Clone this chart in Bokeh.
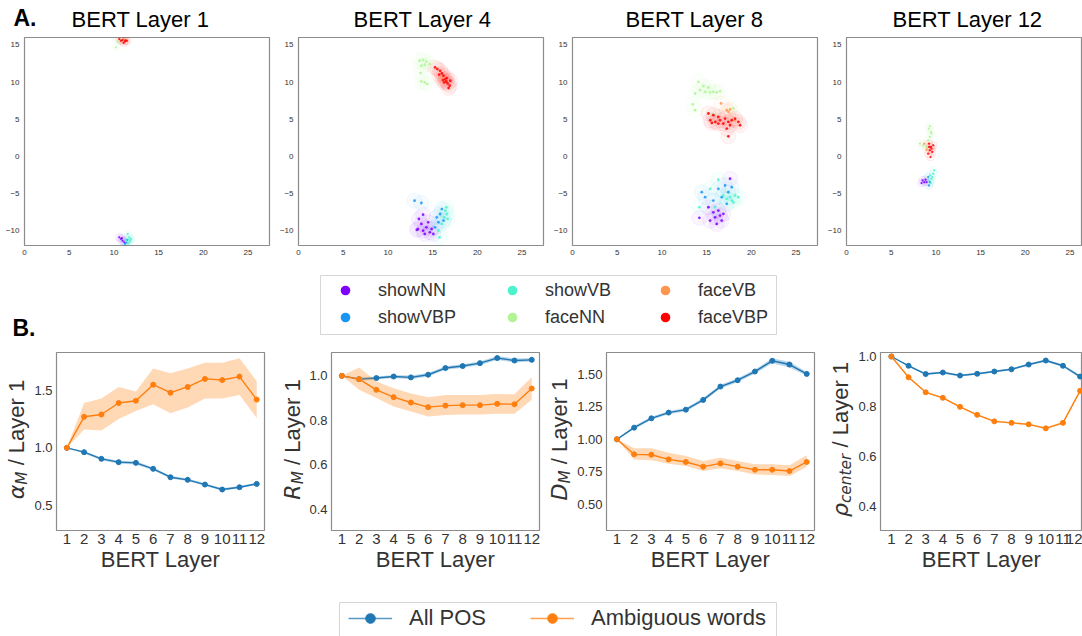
import math
from bokeh.plotting import figure
from bokeh.layouts import column, row
from bokeh.models import Range1d, FixedTicker, NumeralTickFormatter, Legend, LegendItem
from bokeh.core.properties import value
from bokeh.embed import file_html
from bokeh.resources import INLINE

FONT = "Liberation Sans"
MATHFONT = "DejaVu Sans"
TXT = "#333333"

# ---------------- Panel A: 2-D embeddings of the words per BERT layer ----------------
categories = ["showNN", "showVBP", "showVB", "faceNN", "faceVB", "faceVBP"]
category_colors = ["#8000ff", "#1996f3", "#4df3ce", "#b2f396", "#ff964f", "#ff0000"]
panel_a_titles = ["BERT Layer 1", "BERT Layer 4", "BERT Layer 8", "BERT Layer 12"]
umap_xticks = [0, 5, 10, 15, 20, 25]
umap_yticks = [-10, -5, 0, 5, 10, 15]

l1_showNN = [(10.6, -10.9), (10.79, -11.12), (10.97, -11.35), (11.16, -11.57), (10.9, -11.0)]
l1_showVBP = [(11.24, -11.79), (11.46, -11.26), (11.4, -11.6)]
l1_showVB = [(11.54, -10.45), (11.72, -10.9), (11.35, -11.35), (11.84, -11.43), (11.61, -11.7), (11.91, -11.12), (11.65, -11.2)]
l1_faceNN = [(10.41, 15.47), (10.22, 14.66), (10.71, 15.65)]
l1_faceVB = [(11.16, 15.74)]
l1_faceVBP = [(10.79, 15.56), (10.97, 15.65), (11.24, 15.47), (11.46, 15.56), (11.09, 15.29), (10.6, 15.78), (11.3, 15.6)]

l4_showNN = [(13.36, -9.78), (13.93, -10.0), (14.31, -9.55), (14.69, -10.22), (14.89, -9.78), (14.12, -10.45),
             (13.74, -9.1), (15.08, -10.45), (14.5, -8.88), (13.47, -8.43), (13.93, -7.85), (13.24, -9.91)]
l4_showVBP = [(12.98, -5.96), (13.74, -6.28), (15.46, -8.21), (15.84, -7.76), (15.65, -8.88), (15.27, -9.55),
              (16.03, -7.09), (16.22, -8.65)]
l4_showVB = [(16.41, -7.31), (16.6, -7.76), (16.3, -8.21), (16.03, -9.1), (15.76, -10.9), (15.65, -10.0),
             (16.53, -6.86), (16.68, -8.43)]
l4_faceNN = [(13.55, 12.87), (13.93, 12.96), (14.31, 12.74), (14.69, 12.42), (13.74, 12.2), (14.12, 12.33),
             (13.66, 11.21), (13.74, 10.09), (14.12, 9.96), (14.39, 9.73)]
l4_faceVB = [(16.41, 10.18), (16.0, 10.6)]
l4_faceVBP = [(15.27, 11.97), (15.53, 11.75), (15.84, 11.52), (16.03, 11.17), (16.22, 10.85), (16.41, 10.4),
              (16.53, 10.09), (16.68, 9.82), (16.91, 9.51), (16.3, 9.96), (16.6, 10.54), (16.98, 10.18),
              (16.15, 10.27), (16.79, 9.19), (15.73, 10.99)]

l8_showNN = [(17.62, -3.01), (15.2, -6.85), (15.75, -7.53), (16.31, -7.3), (15.94, -8.2), (16.5, -7.97),
             (15.39, -8.65), (16.13, -9.09), (16.69, -8.65), (14.19, -8.28), (16.87, -7.74)]
l8_showVBP = [(14.46, -4.82), (16.31, -4.37), (17.06, -3.92), (17.43, -4.82), (17.81, -4.15), (16.69, -5.5),
              (15.75, -5.95), (17.25, -6.39), (14.83, -5.5)]
l8_showVB = [(16.31, -3.15), (15.39, -4.37), (16.87, -5.27), (17.62, -5.5), (18.18, -5.27), (18.55, -5.5),
             (17.25, -5.72), (17.81, -5.95), (14.19, -6.85), (15.94, -6.85), (17.99, -6.18)]
l8_faceNN = [(14.08, 10.04), (14.63, 9.46), (15.19, 9.28), (14.27, 8.92), (14.83, 8.69), (15.39, 8.61),
             (15.76, 8.69), (16.13, 8.61), (13.71, 8.47), (16.5, 8.78), (13.45, 6.99), (13.71, 6.22),
             (15.75, 5.68), (17.99, 6.45)]
l8_faceVB = [(16.61, 7.12), (17.25, 6.22), (17.43, 5.99), (17.62, 6.31), (18.18, 4.86)]
l8_faceVBP = [(15.2, 5.77), (15.75, 5.54), (16.31, 5.31), (15.41, 4.86), (15.97, 4.64), (16.5, 4.86),
              (17.06, 5.09), (17.43, 4.64), (17.81, 4.86), (18.18, 5.09), (18.55, 4.64), (16.87, 4.42),
              (17.62, 4.19), (17.25, 3.74), (16.31, 4.42), (15.58, 4.5), (18.74, 4.19), (17.43, 2.7)]

l12_showNN = [(8.51, -3.24), (8.69, -3.47), (8.84, -3.15), (8.4, -3.6), (8.96, -3.47)]
l12_showVBP = [(9.14, -2.79), (9.33, -3.47), (9.22, -3.92)]
l12_showVB = [(9.33, -2.57), (9.51, -3.02), (9.7, -2.34), (9.81, -1.89), (9.44, -3.6), (9.59, -2.79), (9.14, -3.24)]
l12_faceNN = [(9.22, 3.74), (9.44, 3.29), (9.33, 2.61), (9.14, 2.16), (9.51, 3.06), (8.21, 1.71), (8.58, 1.49),
              (8.96, 1.26), (9.33, 4.05)]
l12_faceVB = [(8.69, 1.71), (8.96, 0.9)]
l12_faceVBP = [(9.22, 1.71), (9.44, 1.26), (9.33, 0.81), (9.59, 0.59), (9.14, 0.36), (9.4, -0.09), (9.25, 1.26),
               (9.51, 1.04), (9.7, 1.49)]

panel_a_points = [
    [l1_showNN, l1_showVBP, l1_showVB, l1_faceNN, l1_faceVB, l1_faceVBP],
    [l4_showNN, l4_showVBP, l4_showVB, l4_faceNN, l4_faceVB, l4_faceVBP],
    [l8_showNN, l8_showVBP, l8_showVB, l8_faceNN, l8_faceVB, l8_faceVBP],
    [l12_showNN, l12_showVBP, l12_showVB, l12_faceNN, l12_faceVB, l12_faceVBP],
]

# ---------------- Panel B: metrics relative to layer 1 ----------------
layers = [1, 2, 3, 4, 5, 6, 7, 8, 9, 10, 11, 12]
series_names = ["All POS", "Ambiguous words"]
series_colors = ["#1f77b4", "#ff7f0e"]

alpha_all = [1.0, 0.962, 0.904, 0.875, 0.869, 0.817, 0.744, 0.721, 0.680, 0.637, 0.657, 0.686]
alpha_all_lo = [1.0, 0.950, 0.892, 0.862, 0.855, 0.805, 0.733, 0.711, 0.670, 0.627, 0.647, 0.677]
alpha_all_hi = [1.0, 0.973, 0.916, 0.887, 0.882, 0.829, 0.756, 0.732, 0.691, 0.648, 0.668, 0.696]
alpha_amb = [1.0, 1.27, 1.29, 1.39, 1.41, 1.55, 1.48, 1.53, 1.60, 1.59, 1.62, 1.42]
alpha_amb_lo = [1.0, 1.16, 1.15, 1.25, 1.32, 1.38, 1.30, 1.35, 1.43, 1.43, 1.46, 1.26]
alpha_amb_hi = [1.0, 1.39, 1.43, 1.53, 1.49, 1.69, 1.65, 1.69, 1.74, 1.74, 1.78, 1.58]

R_all = [1.0, 0.985, 0.990, 0.997, 0.993, 1.005, 1.035, 1.044, 1.057, 1.080, 1.069, 1.072]
R_all_lo = [1.0, 0.978, 0.983, 0.990, 0.985, 0.997, 1.027, 1.036, 1.049, 1.071, 1.060, 1.064]
R_all_hi = [1.0, 0.992, 0.997, 1.004, 1.001, 1.013, 1.043, 1.052, 1.065, 1.089, 1.078, 1.080]
R_amb = [1.0, 0.985, 0.937, 0.904, 0.880, 0.859, 0.866, 0.868, 0.868, 0.874, 0.872, 0.943]
R_amb_lo = [1.0, 0.937, 0.900, 0.862, 0.840, 0.817, 0.824, 0.826, 0.826, 0.829, 0.829, 0.892]
R_amb_hi = [1.0, 1.038, 0.974, 0.944, 0.920, 0.904, 0.914, 0.914, 0.914, 0.918, 0.917, 0.994]

D_all = [1.0, 1.090, 1.162, 1.206, 1.229, 1.304, 1.407, 1.456, 1.523, 1.606, 1.577, 1.505]
D_all_lo = [1.0, 1.078, 1.150, 1.193, 1.216, 1.290, 1.392, 1.441, 1.507, 1.587, 1.555, 1.490]
D_all_hi = [1.0, 1.102, 1.174, 1.219, 1.242, 1.318, 1.422, 1.471, 1.539, 1.625, 1.599, 1.520]
D_amb = [1.0, 0.884, 0.881, 0.845, 0.825, 0.789, 0.814, 0.789, 0.765, 0.765, 0.755, 0.825]
D_amb_lo = [1.0, 0.845, 0.838, 0.812, 0.794, 0.755, 0.776, 0.755, 0.729, 0.724, 0.716, 0.786]
D_amb_hi = [1.0, 0.930, 0.930, 0.897, 0.871, 0.832, 0.858, 0.832, 0.807, 0.807, 0.799, 0.876]

rho_all = [1.0, 0.963, 0.930, 0.936, 0.924, 0.931, 0.940, 0.949, 0.968, 0.984, 0.963, 0.920]
rho_all_lo = [1.0, 0.959, 0.926, 0.932, 0.920, 0.927, 0.936, 0.945, 0.964, 0.979, 0.958, 0.914]
rho_all_hi = [1.0, 0.967, 0.934, 0.940, 0.928, 0.935, 0.944, 0.953, 0.972, 0.989, 0.968, 0.926]
rho_amb = [1.0, 0.917, 0.857, 0.835, 0.799, 0.767, 0.741, 0.735, 0.729, 0.713, 0.735, 0.863]
rho_amb_lo = [1.0, 0.914, 0.854, 0.832, 0.796, 0.764, 0.738, 0.732, 0.726, 0.709, 0.731, 0.858]
rho_amb_hi = [1.0, 0.920, 0.860, 0.838, 0.802, 0.770, 0.744, 0.738, 0.732, 0.717, 0.739, 0.868]

b_yticks = [[0.5, 1.0, 1.5], [0.4, 0.6, 0.8, 1.0], [0.5, 0.75, 1.0, 1.25, 1.5], [0.4, 0.6, 0.8, 1.0]]
b_yformats = ["0.0", "0.0", "0.00", "0.0"]
b_yranges = [(0.28, 1.83), (0.304, 1.105), (0.296, 1.67), (0.305, 1.016)]
b_series = [
    [(alpha_all, alpha_all_lo, alpha_all_hi), (alpha_amb, alpha_amb_lo, alpha_amb_hi)],
    [(R_all, R_all_lo, R_all_hi), (R_amb, R_amb_lo, R_amb_hi)],
    [(D_all, D_all_lo, D_all_hi), (D_amb, D_amb_lo, D_amb_hi)],
    [(rho_all, rho_all_lo, rho_all_hi), (rho_amb, rho_amb_lo, rho_amb_hi)],
]
# y-label pieces: (text, font, style, size px, approx advance px, shift toward baseline px)
b_ylabels = [
    [("\u03b1", MATHFONT, "italic", 22, 14.5, 0), ("M", MATHFONT, "italic", 15.4, 13.3, 5.5), ("/ Layer 1", FONT, "normal", 22, 85.6, 0)],
    [("R", MATHFONT, "italic", 22, 15.3, 0), ("M", MATHFONT, "italic", 15.4, 13.3, 5.5), ("/ Layer 1", FONT, "normal", 22, 85.6, 0)],
    [("D", MATHFONT, "italic", 22, 16.9, 0), ("M", MATHFONT, "italic", 15.4, 13.3, 5.5), ("/ Layer 1", FONT, "normal", 22, 85.6, 0)],
    [("\u03c1", MATHFONT, "italic", 22, 14.0, 0), ("center", MATHFONT, "italic", 15.4, 49.5, 5.5), ("/ Layer 1", FONT, "normal", 22, 85.6, 0)],
]
GAP = 6.1  # the space before "/"

OFF = -1000  # legend-only proxy marks live far outside every visible range


def style_frame(p, tick_size_x, tick_size_y, standoff_x, standoff_y):
    p.outline_line_color = "#8c8c8c"
    p.outline_line_width = 1.2
    p.xgrid.visible = False
    p.ygrid.visible = False
    for ax, sz, so in ((p.xaxis[0], tick_size_x, standoff_x), (p.yaxis[0], tick_size_y, standoff_y)):
        ax.axis_line_color = None
        ax.major_tick_line_color = None
        ax.minor_tick_line_color = None
        ax.major_tick_out = 0
        ax.major_tick_in = 0
        ax.minor_tick_out = 0
        ax.minor_tick_in = 0
        ax.major_label_text_font = FONT
        ax.major_label_text_font_size = sz
        ax.major_label_text_color = TXT
        ax.major_label_standoff = so


def blank_fig(w, h, y0=0, y1=None, top=0, bottom=0):
    p = figure(width=w, height=h, x_range=Range1d(0, w), y_range=Range1d(y0, h if y1 is None else y1),
               title=None, x_axis_type=None, y_axis_type=None, toolbar_location=None, output_backend="svg",
               min_border_left=0, min_border_right=0, min_border_top=top, min_border_bottom=bottom)
    p.outline_line_color = None
    p.xgrid.visible = False
    p.ygrid.visible = False
    return p


# ---------------- header (panel letter + titles) ----------------
W = 1082
HD_H = 35
header = blank_fig(W, HD_H)
header.text(x=[13], y=[HD_H - 17], text=["A."], text_font=value(FONT), text_font_style="bold",
            text_font_size="23px", text_color="#000000", text_baseline="middle")
title_centers = [140, 422, 694, 967]
header.text(x=title_centers, y=[HD_H - 18.5] * 4, text=panel_a_titles, text_font=value(FONT),
            text_font_size="22px", text_color="#000000", text_align="center", text_baseline="middle")

# ---------------- row A ----------------
a_geom = [(272, 24, 3, 27.4), (274, 26, 3, 27.4), (274, 26, 3, 27.4), (262, 26, 0, 26.4)]
minus_labels = {t: ("\u2212%d" % (-t) if t < 0 else "%d" % t) for t in umap_yticks}
row_a = []
for k, (w, lb, rb, xmax) in enumerate(a_geom):
    p = figure(width=w, height=227, x_range=Range1d(0, xmax), y_range=Range1d(-12, 16), title=None,
               toolbar_location=None, output_backend="svg",
               min_border_left=lb, min_border_right=rb, min_border_top=2, min_border_bottom=17)
    style_frame(p, "8px", "8px", 4, 5)
    p.xaxis.ticker = FixedTicker(ticks=umap_xticks)
    p.yaxis.ticker = FixedTicker(ticks=umap_yticks)
    p.yaxis.major_label_overrides = minus_labels
    glow = 15 if k in (1, 2) else 8
    dot = 2.8 if k in (1, 2) else 2.3
    for pts, col in zip(panel_a_points[k], category_colors):
        xs = [q[0] for q in pts]
        ys = [q[1] for q in pts]
        p.scatter(xs, ys, size=glow, fill_color=col, fill_alpha=0.04, line_color=col, line_alpha=0.06)
    for pts, col in zip(panel_a_points[k], category_colors):
        xs = [q[0] for q in pts]
        ys = [q[1] for q in pts]
        p.scatter(xs, ys, size=dot, fill_color=col, fill_alpha=0.85, line_color=None)
    row_a.append(p)

# ---------------- legend A + "B." ----------------
LA_H = 78  # figure spans screen y 262..340
leg_a_fig = blank_fig(W, LA_H)
leg_a_fig.text(x=[12], y=[13], text=["B."], text_font=value(FONT), text_font_style="bold",
               text_font_size="23px", text_color="#000000", text_baseline="middle")
leg_a_fig.quad(left=[320], right=[776], top=[LA_H - 13], bottom=[LA_H - 72],
               fill_color="#ffffff", line_color="#d6d6d6", line_width=1)
col_x = [324, 491, 644]
for c in range(3):
    items = []
    for name, col in zip(categories[2 * c:2 * c + 2], category_colors[2 * c:2 * c + 2]):
        r = leg_a_fig.scatter([OFF], [OFF], size=8, fill_color=col, line_color=None)
        items.append(LegendItem(label=name, renderers=[r]))
    leg = Legend(items=items, location=(col_x[c], 11), orientation="vertical",
                 padding=0, spacing=3, glyph_width=42, glyph_height=24, label_height=24,
                 label_standoff=12, label_text_font=FONT, label_text_font_size="18px",
                 label_text_color=TXT, border_line_color=None, background_fill_alpha=0.0, margin=0)
    leg_a_fig.add_layout(leg)

# ---------------- row B ----------------
# row B spans screen y 340..600; its frames span 352..530; data y of label figures = 600 - screen y
ylab_geom = [(31, 16), (40, 25.5), (33, 18), (39, 24)]
b_geom = [(235, 23, 2, (0.4, 12.45)), (235, 23, 2, (0.4, 12.45)), (242, 30, 2, (0.4, 12.45)), (227, 23, 0, (0.365, 12.14))]
LABEL_CY = 600 - 439
row_b = []
for k in range(4):
    wl, cx = ylab_geom[k]
    yl = blank_fig(wl, 260, y0=70, y1=248, top=12, bottom=70)
    pieces = b_ylabels[k]
    total = sum(pc[4] for pc in pieces) + GAP
    ycur = LABEL_CY - total / 2.0
    for j, (txt, fnt, sty, sz, adv, shift) in enumerate(pieces):
        if j == 2:
            ycur += GAP
        yl.text(x=[cx + shift], y=[ycur + adv / 2.0], text=[txt], angle=math.pi / 2, text_font=value(fnt),
                text_font_style=sty, text_font_size="%spx" % sz, text_color=TXT,
                text_align="center", text_baseline="middle")
        ycur += adv
    row_b.append(yl)

    w, lb, rb, xr = b_geom[k]
    p = figure(width=w, height=260, x_range=Range1d(*xr), y_range=Range1d(*b_yranges[k]), title=None,
               toolbar_location=None, output_backend="svg",
               min_border_left=lb, min_border_right=rb, min_border_top=12, min_border_bottom=70)
    style_frame(p, "15px", "13px", 3, 4)
    p.xaxis.ticker = FixedTicker(ticks=layers)
    p.yaxis.ticker = FixedTicker(ticks=b_yticks[k])
    p.yaxis.formatter = NumeralTickFormatter(format=b_yformats[k])
    p.xaxis.axis_label = "BERT Layer"
    p.xaxis.axis_label_text_font = FONT
    p.xaxis.axis_label_text_font_size = "22px"
    p.xaxis.axis_label_text_font_style = "normal"
    p.xaxis.axis_label_text_color = TXT
    p.xaxis.axis_label_standoff = 0
    for (mean, lo, hi), col in zip(b_series[k], series_colors):
        p.varea(x=layers, y1=lo, y2=hi, fill_color=col, fill_alpha=0.3)
        p.line(layers, mean, line_color=col, line_width=1.4)
        p.scatter(layers, mean, size=5, fill_color=col, line_color=col)
    row_b.append(p)

# ---------------- legend B ----------------
LB_H = 36  # figure spans screen y 600..636
leg_b_fig = blank_fig(W, LB_H)
leg_b_fig.quad(left=[339], right=[776], top=[LB_H - 2], bottom=[-10],
               fill_color="#ffffff", line_color="#d6d6d6", line_width=1)
items_b = []
for name, col in zip(series_names, series_colors):
    rl = leg_b_fig.line([OFF, OFF - 1], [OFF, OFF], line_color=col, line_width=1.4, line_alpha=0.75)
    rs = leg_b_fig.scatter([OFF], [OFF], size=7, fill_color=col, line_color=col)
    items_b.append(LegendItem(label=name, renderers=[rl, rs]))
leg_b = Legend(items=items_b, location=(348, 5), orientation="horizontal",
               padding=0, spacing=44, glyph_width=44, glyph_height=24, label_height=24,
               label_standoff=17, label_text_font=FONT, label_text_font_size="22px",
               label_text_color=TXT, border_line_color=None, background_fill_alpha=0.0, margin=0)
leg_b_fig.add_layout(leg_b)

layout = column(header, row(*row_a), leg_a_fig, row(*row_b), leg_b_fig)
open("out.html", "w").write(file_html(layout, INLINE, title="BERT layers"))
